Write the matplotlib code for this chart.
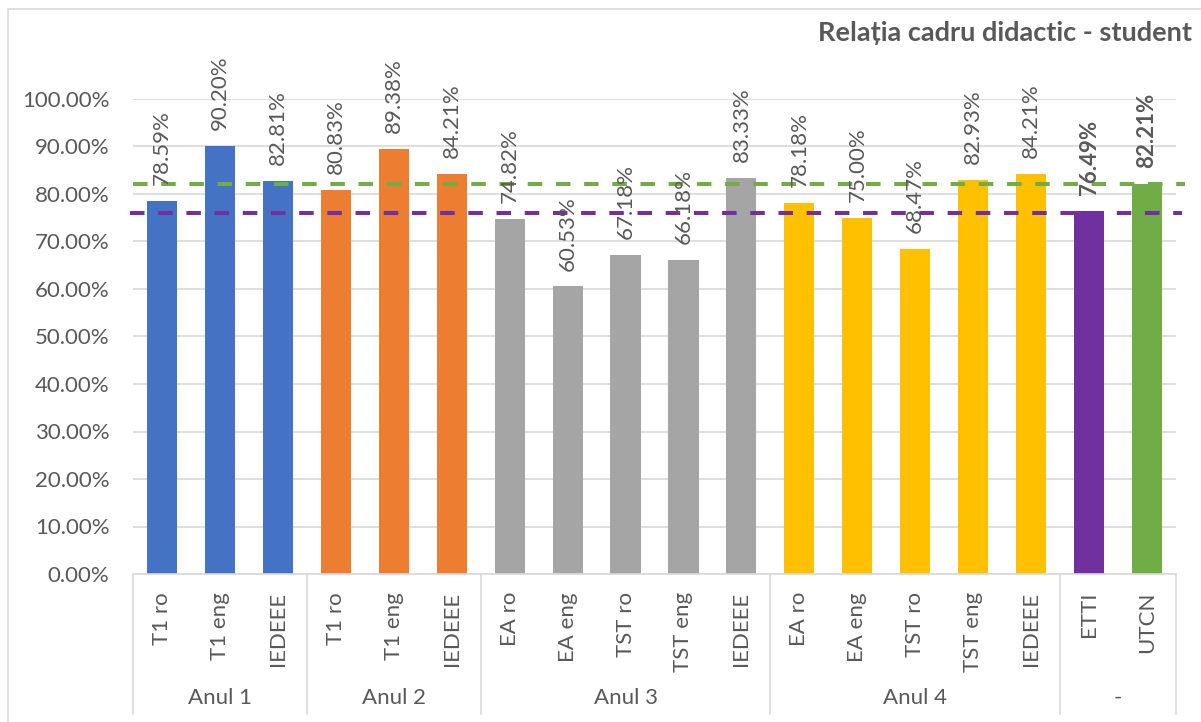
# Relatia cadru didactic - student: bar chart with two-level category axis
import matplotlib
matplotlib.use("Agg")
import matplotlib.pyplot as plt
from matplotlib.patches import Rectangle

plt.rcParams['font.family'] = ['Lato', 'DejaVu Sans']

# data
groups = ['Anul 1', 'Anul 2', 'Anul 3', 'Anul 4', '-']
group_sizes = [3, 3, 5, 5, 2]
programs = ['T1 ro', 'T1 eng', 'IEDEEE',
            'T1 ro', 'T1 eng', 'IEDEEE',
            'EA ro', 'EA eng', 'TST ro', 'TST eng', 'IEDEEE',
            'EA ro', 'EA eng', 'TST ro', 'TST eng', 'IEDEEE',
            'ETTI', 'UTCN']
values = [78.59, 90.20, 82.81,
          80.83, 89.38, 84.21,
          74.82, 60.53, 67.18, 66.18, 83.33,
          78.18, 75.00, 68.47, 82.93, 84.21,
          76.49, 82.21]
ref_utcn = 82.0   # green dashed reference
ref_etti = 75.9   # purple dashed reference

group_colors = ['#4472C4', '#ED7D31', '#A5A5A5', '#FFC000', None]
total_colors = ['#7030A0', '#70AD47']

txt = '#595959'
grid = '#D9D9D9'
fs = 16

colors = []
for c, n in zip(group_colors, group_sizes):
    if c is not None:
        colors += [c] * n
colors += total_colors

fig = plt.figure(figsize=(12.01, 7.22), dpi=100)
ax = fig.add_axes([133/1201, 1 - 574/722, (1176-133)/1201, (574-99)/722])

# chart frame
fig.patches.append(Rectangle((8/1201, -0.1), 1.2, 1.1 - 9/722, transform=fig.transFigure,
                             fill=False, edgecolor=grid, lw=1.2))

x = list(range(len(values)))
vals = [v / 100 for v in values]
ax.bar(x, vals, width=0.52, color=colors, zorder=2)

# data labels
for i, v in enumerate(vals):
    bold = programs[i] in ('ETTI', 'UTCN')
    ax.annotate(f'{values[i]:.2f}%', (i, v), xytext=(0, 11.5), textcoords='offset points',
                rotation=90, ha='center', va='bottom', fontsize=fs, color=txt,
                fontweight='bold' if bold else 'normal', clip_on=False, zorder=4)

# reference lines
ax.plot([-0.5, 17.66], [ref_utcn/100]*2, color='#70AD47', lw=2.9,
        linestyle=(0, (3.6, 3.4)), clip_on=False, zorder=3)
ax.plot([-0.55, 17.6], [ref_etti/100]*2, color='#7030A0', lw=2.9,
        linestyle=(0, (3.6, 3.4)), clip_on=False, zorder=3)

ax.set_xlim(-0.5, len(values) - 0.5)
ax.set_ylim(0, 1.0)
ax.set_yticks([i / 10 for i in range(11)])
ax.set_yticklabels([f'{i*10:.2f}%' for i in range(11)])
ax.yaxis.grid(True, color=grid, lw=1.2, zorder=0)
ax.set_axisbelow(True)
for s in ('top', 'right', 'left'):
    ax.spines[s].set_visible(False)
ax.spines['bottom'].set_color(grid)
ax.spines['bottom'].set_linewidth(1.2)
ax.tick_params(axis='y', length=0, pad=17, labelsize=fs, labelcolor=txt)

ax.set_xticks(x)
ax.set_xticklabels(programs, rotation=90, va='top', ha='center')
ax.tick_params(axis='x', length=0, pad=13, labelsize=fs, labelcolor=txt)

# group separators and group names
bounds = [-0.5]
for n in group_sizes:
    bounds.append(bounds[-1] + n)
for b in bounds:
    ax.axvline(b, ymin=-140/475, ymax=0, color=grid, lw=1.2, clip_on=False)
for g, a, b in zip(groups, bounds[:-1], bounds[1:]):
    ax.annotate(g, ((a + b) / 2, 0), xycoords=('data', 'axes fraction'),
                xytext=(0, -124/1.389), textcoords='offset points',
                ha='center', va='center', fontsize=fs, color=txt, annotation_clip=False)

fig.text(1192/1201, 1 - 33/722, 'Relația cadru didactic - student', ha='right', va='center',
         fontsize=19.5, fontweight='bold', color=txt)

fig.savefig('out.png', dpi=100)
